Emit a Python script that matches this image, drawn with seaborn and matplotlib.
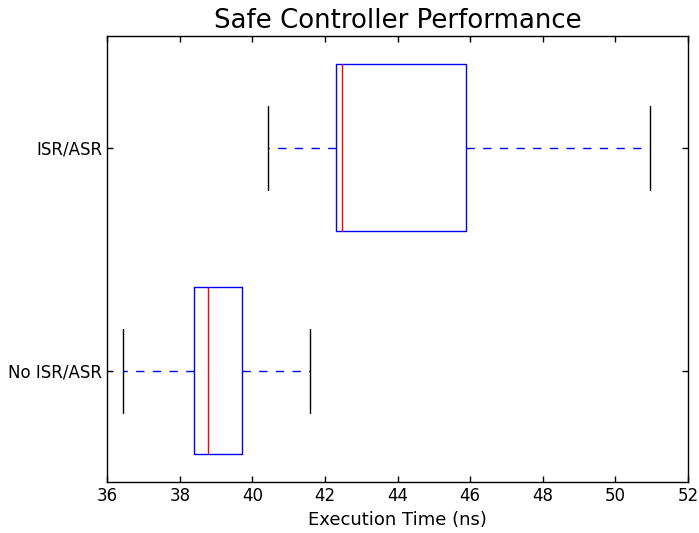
import seaborn as sns
import matplotlib.pyplot as plt
import pandas as pd

# five-number summaries (min, q1, median, q3, max)
configs = ["ISR/ASR", "No ISR/ASR"]
isr_asr = [40.42, 42.31, 42.47, 45.88, 50.95]
no_isr_asr = [36.42, 38.38, 38.78, 39.70, 41.59]

df = pd.DataFrame({
    "config": [configs[0]] * len(isr_asr) + [configs[1]] * len(no_isr_asr),
    "time": isr_asr + no_isr_asr,
})

sns.set_style("ticks", {"xtick.direction": "in", "ytick.direction": "in",
                        "xtick.top": True, "ytick.right": True,
                        "text.color": "black", "axes.labelcolor": "black",
                        "xtick.color": "black", "ytick.color": "black",
                        "axes.edgecolor": "black"})
plt.rcParams["font.family"] = ["DejaVu Sans"]

fig, ax = plt.subplots(figsize=(6.99, 5.33), dpi=100)
fig.subplots_adjust(left=0.1535, right=0.984, top=0.932, bottom=0.095)

sns.boxplot(data=df, x="time", y="config", order=configs, orient="h",
            width=0.75, whis=3, fill=False, linecolor="blue", linewidth=1,
            boxprops=dict(color="blue", linewidth=1),
            medianprops=dict(color="red", linewidth=1),
            whiskerprops=dict(color="blue", linestyle=(0, (6, 6)), linewidth=1),
            capprops=dict(color="black", linewidth=1),
            ax=ax)

ax.set_xlim(36, 52)
ax.set_xticks(range(36, 53, 2))
ax.set_ylim(1.5, -0.5)
ax.set_title("Safe Controller Performance", fontsize=18.7, color="black")
ax.set_xlabel("Execution Time (ns)", fontsize=13)
ax.set_ylabel("")
ax.tick_params(axis="both", labelsize=12, length=4, width=1, color="black",
               labelcolor="black")
for s in ax.spines.values():
    s.set_color("black")
    s.set_linewidth(1)

fig.savefig("out.png")
